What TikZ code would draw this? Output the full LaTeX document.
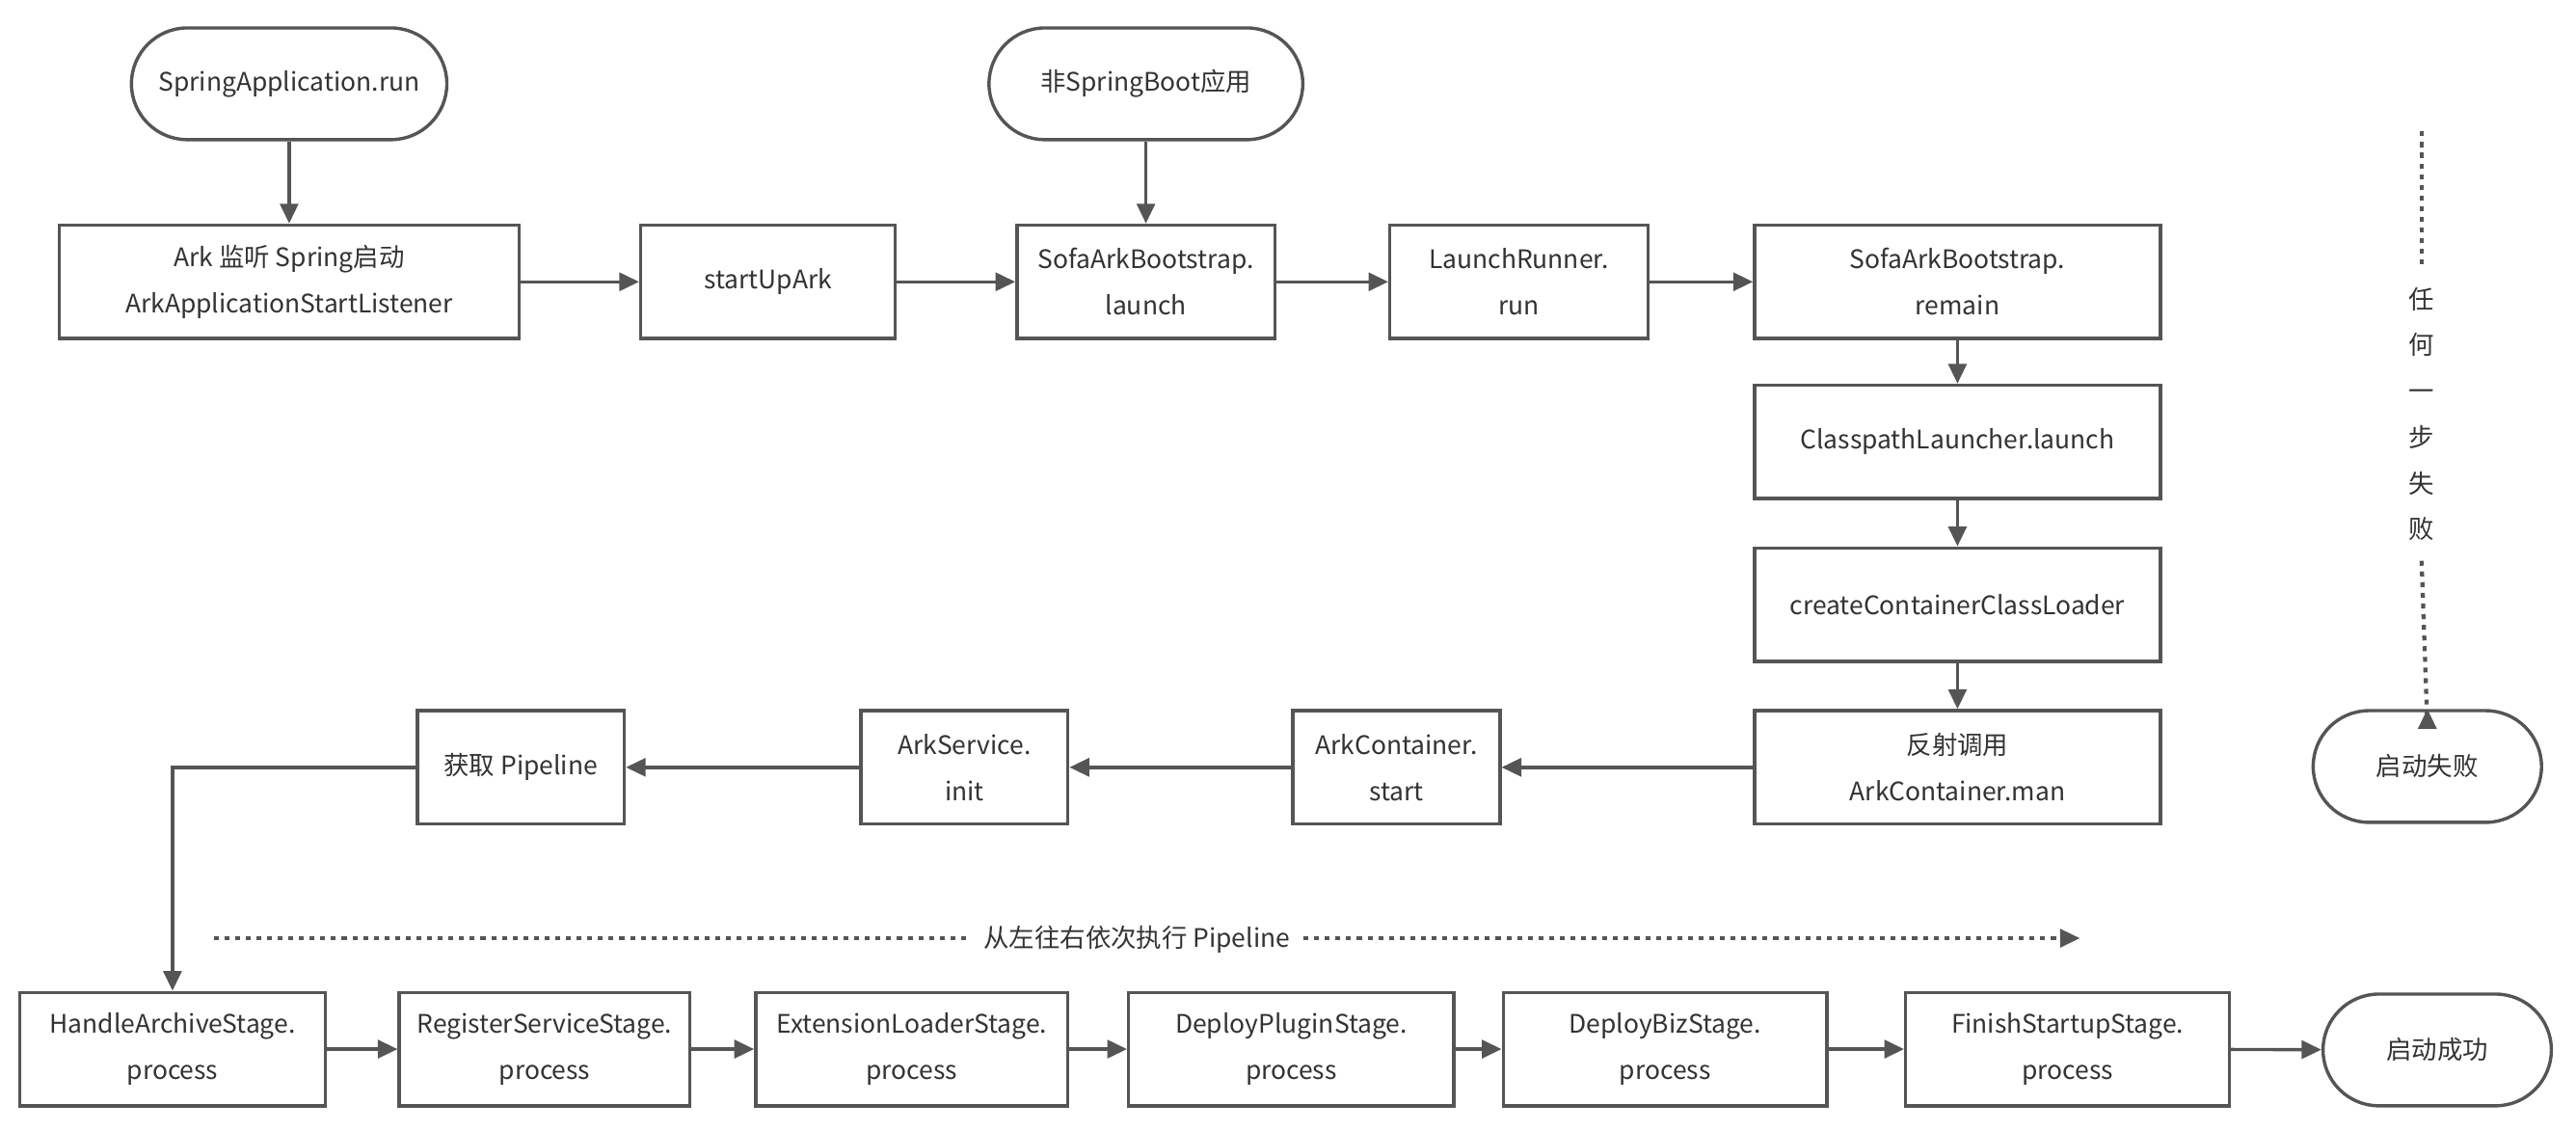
\documentclass[tikz,border=0pt]{standalone}
\usepackage{fontspec}
\setmainfont{Noto Sans CJK SC}
\usetikzlibrary{arrows.meta}
\definecolor{lc}{HTML}{555555}
\definecolor{tc}{HTML}{333333}
\tikzset{
  base/.style={draw=lc, line width=2pt, fill=white, inner sep=0pt, align=center,
    text=tc, font=\fontsize{15.5}{28}\selectfont},
  box/.style={base, minimum height=69pt},
  term/.style={base, minimum height=68pt, rounded corners=34pt},
  conn/.style={draw=lc, line width=2pt, -{Triangle[length=12pt,width=11pt]}},
  dotconn/.style={draw=lc, line width=2.5pt, dash pattern=on 3pt off 3.5pt},
  lbl/.style={text=tc, font=\fontsize{15.5}{28}\selectfont, align=center}
}
\begin{document}
\begin{tikzpicture}[x=1pt,y=-1pt]
\useasboundingbox (0,0) rectangle (1568,688);
% terminals
\node[term, minimum width=192pt] (spring) at (176,51) {SpringApplication.run};
\node[term, minimum width=191pt] (nonsb) at (697.5,51) {非SpringBoot应用};
% row 1
\node[box, minimum width=280pt] (ark) at (176,171.5) {Ark 监听 Spring启动\\ArkApplicationStartListener};
\node[box, minimum width=155pt] (start) at (467.5,171.5) {startUpArk};
\node[box, minimum width=157pt] (launch) at (697.5,171.5) {SofaArkBootstrap.\\launch};
\node[box, minimum width=157pt] (runner) at (924.5,171.5) {LaunchRunner.\\run};
\node[box, minimum width=247pt] (remain) at (1191.5,171.5) {SofaArkBootstrap.\\remain};
% column
\node[box, minimum width=247pt] (cpl) at (1191.5,269) {ClasspathLauncher.launch};
\node[box, minimum width=247pt] (ccl) at (1191.5,368) {createContainerClassLoader};
\node[box, minimum width=247pt] (refl) at (1191.5,467) {反射调用\\ArkContainer.man};
% row 3
\node[box, minimum width=126pt] (acs) at (850,467) {ArkContainer.\\start};
\node[box, minimum width=126pt] (asi) at (587,467) {ArkService.\\init};
\node[box, minimum width=126pt] (pipe) at (317,467) {获取 Pipeline};
% bottom row
\node[box, minimum width=186pt] (s1) at (105,638.5) {HandleArchiveStage.\\process};
\node[box, minimum width=177pt] (s2) at (331.5,638.5) {RegisterServiceStage.\\process};
\node[box, minimum width=190pt] (s3) at (555,638.5) {ExtensionLoaderStage.\\process};
\node[box, minimum width=198pt] (s4) at (786,638.5) {DeployPluginStage.\\process};
\node[box, minimum width=197pt] (s5) at (1013.5,638.5) {DeployBizStage.\\process};
\node[box, minimum width=197pt] (s6) at (1258.5,638.5) {FinishStartupStage.\\process};
\node[term, minimum width=139pt] (ok) at (1483.5,639) {启动成功};
\node[term, minimum width=139pt] (fail) at (1477.5,466.5) {启动失败};
% connectors
\draw[conn] (spring) -- (ark);
\draw[conn] (nonsb) -- (launch);
\draw[conn] (ark) -- (start);
\draw[conn] (start) -- (launch);
\draw[conn] (launch) -- (runner);
\draw[conn] (runner) -- (remain);
\draw[conn] (remain) -- (cpl);
\draw[conn] (cpl) -- (ccl);
\draw[conn] (ccl) -- (refl);
\draw[conn] (refl) -- (acs);
\draw[conn] (acs) -- (asi);
\draw[conn] (asi) -- (pipe);
\draw[conn] (pipe.west) -| (s1.north);
\draw[conn] (s1) -- (s2);
\draw[conn] (s2) -- (s3);
\draw[conn] (s3) -- (s4);
\draw[conn] (s4) -- (s5);
\draw[conn] (s5) -- (s6);
\draw[conn] (s6) -- (ok);
% failure note
\coordinate (ftop) at (1474,80);
\node[lbl, inner xsep=2pt, inner ysep=12pt] (anyfail) at (1474,252) {任\\何\\一\\步\\失\\败};
\draw[dotconn] (ftop) -- (anyfail.north);
\draw[dotconn] (anyfail.south) -- ([yshift=-10pt]fail.north);
\draw[conn] ([yshift=-12pt]fail.north) -- (fail.north);
% pipeline note
\coordinate (pstart) at (130,571);
\coordinate (pend) at (1266,571);
\node[lbl, inner xsep=8pt, inner ysep=2pt] (order) at (692,572) {从左往右依次执行 Pipeline};
\draw[dotconn] (pstart) -- (pstart -| order.west);
\draw[dotconn] (order.east |- pend) -- ([xshift=-10pt]pend);
\draw[conn] ([xshift=-12pt]pend) -- (pend);
\end{tikzpicture}
\end{document}
